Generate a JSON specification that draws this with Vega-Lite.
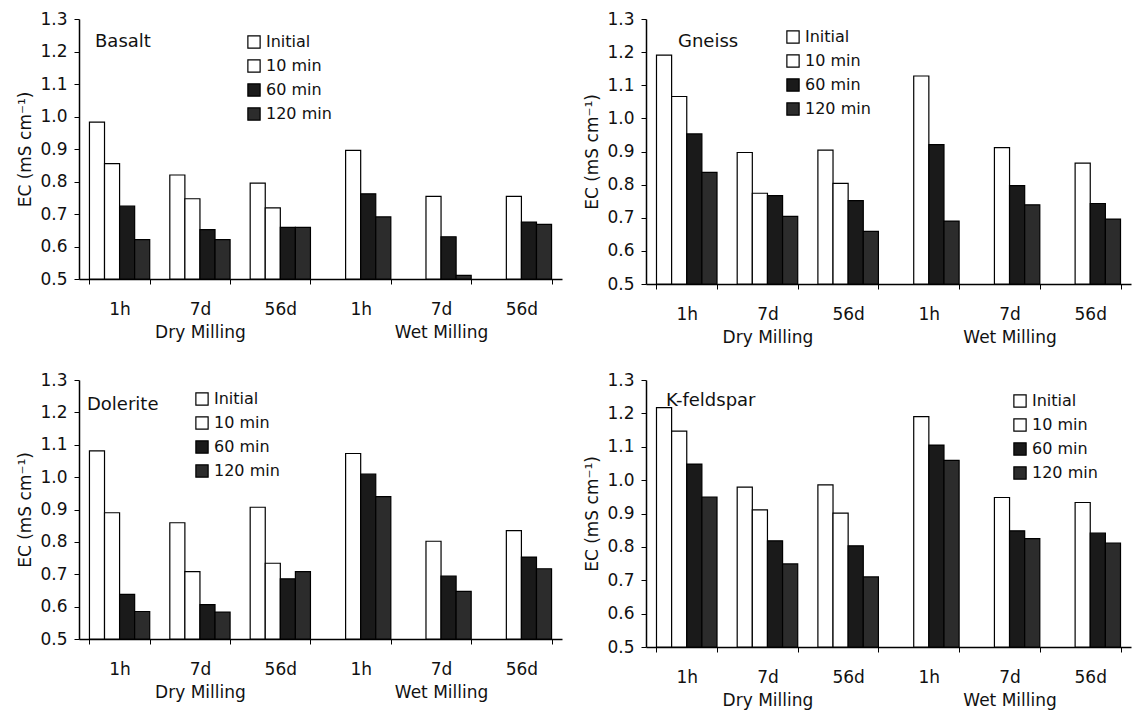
{
  "$schema": "https://vega.github.io/schema/vega-lite/v6.json",
  "padding": {"left": 16, "top": 10, "right": 2, "bottom": 5},
  "background": "#ffffff",
  "datasets": {
    "ec": [
      {"rock": "Basalt", "group": "Dry 1h", "time": "Initial", "ec": 0.983},
      {"rock": "Basalt", "group": "Dry 1h", "time": "10 min", "ec": 0.855},
      {"rock": "Basalt", "group": "Dry 1h", "time": "60 min", "ec": 0.724},
      {"rock": "Basalt", "group": "Dry 1h", "time": "120 min", "ec": 0.621},
      {"rock": "Basalt", "group": "Dry 7d", "time": "Initial", "ec": 0.820},
      {"rock": "Basalt", "group": "Dry 7d", "time": "10 min", "ec": 0.747},
      {"rock": "Basalt", "group": "Dry 7d", "time": "60 min", "ec": 0.652},
      {"rock": "Basalt", "group": "Dry 7d", "time": "120 min", "ec": 0.621},
      {"rock": "Basalt", "group": "Dry 56d", "time": "Initial", "ec": 0.795},
      {"rock": "Basalt", "group": "Dry 56d", "time": "10 min", "ec": 0.719},
      {"rock": "Basalt", "group": "Dry 56d", "time": "60 min", "ec": 0.659},
      {"rock": "Basalt", "group": "Dry 56d", "time": "120 min", "ec": 0.659},
      {"rock": "Basalt", "group": "Wet 1h", "time": "10 min", "ec": 0.896},
      {"rock": "Basalt", "group": "Wet 1h", "time": "60 min", "ec": 0.762},
      {"rock": "Basalt", "group": "Wet 1h", "time": "120 min", "ec": 0.691},
      {"rock": "Basalt", "group": "Wet 7d", "time": "10 min", "ec": 0.754},
      {"rock": "Basalt", "group": "Wet 7d", "time": "60 min", "ec": 0.630},
      {"rock": "Basalt", "group": "Wet 7d", "time": "120 min", "ec": 0.511},
      {"rock": "Basalt", "group": "Wet 56d", "time": "10 min", "ec": 0.754},
      {"rock": "Basalt", "group": "Wet 56d", "time": "60 min", "ec": 0.675},
      {"rock": "Basalt", "group": "Wet 56d", "time": "120 min", "ec": 0.668},

      {"rock": "Gneiss", "group": "Dry 1h", "time": "Initial", "ec": 1.191},
      {"rock": "Gneiss", "group": "Dry 1h", "time": "10 min", "ec": 1.066},
      {"rock": "Gneiss", "group": "Dry 1h", "time": "60 min", "ec": 0.953},
      {"rock": "Gneiss", "group": "Dry 1h", "time": "120 min", "ec": 0.837},
      {"rock": "Gneiss", "group": "Dry 7d", "time": "Initial", "ec": 0.897},
      {"rock": "Gneiss", "group": "Dry 7d", "time": "10 min", "ec": 0.774},
      {"rock": "Gneiss", "group": "Dry 7d", "time": "60 min", "ec": 0.767},
      {"rock": "Gneiss", "group": "Dry 7d", "time": "120 min", "ec": 0.704},
      {"rock": "Gneiss", "group": "Dry 56d", "time": "Initial", "ec": 0.904},
      {"rock": "Gneiss", "group": "Dry 56d", "time": "10 min", "ec": 0.804},
      {"rock": "Gneiss", "group": "Dry 56d", "time": "60 min", "ec": 0.752},
      {"rock": "Gneiss", "group": "Dry 56d", "time": "120 min", "ec": 0.659},
      {"rock": "Gneiss", "group": "Wet 1h", "time": "10 min", "ec": 1.128},
      {"rock": "Gneiss", "group": "Wet 1h", "time": "60 min", "ec": 0.921},
      {"rock": "Gneiss", "group": "Wet 1h", "time": "120 min", "ec": 0.690},
      {"rock": "Gneiss", "group": "Wet 7d", "time": "10 min", "ec": 0.912},
      {"rock": "Gneiss", "group": "Wet 7d", "time": "60 min", "ec": 0.797},
      {"rock": "Gneiss", "group": "Wet 7d", "time": "120 min", "ec": 0.739},
      {"rock": "Gneiss", "group": "Wet 56d", "time": "10 min", "ec": 0.865},
      {"rock": "Gneiss", "group": "Wet 56d", "time": "60 min", "ec": 0.743},
      {"rock": "Gneiss", "group": "Wet 56d", "time": "120 min", "ec": 0.696},

      {"rock": "Dolerite", "group": "Dry 1h", "time": "Initial", "ec": 1.081},
      {"rock": "Dolerite", "group": "Dry 1h", "time": "10 min", "ec": 0.890},
      {"rock": "Dolerite", "group": "Dry 1h", "time": "60 min", "ec": 0.638},
      {"rock": "Dolerite", "group": "Dry 1h", "time": "120 min", "ec": 0.585},
      {"rock": "Dolerite", "group": "Dry 7d", "time": "Initial", "ec": 0.859},
      {"rock": "Dolerite", "group": "Dry 7d", "time": "10 min", "ec": 0.708},
      {"rock": "Dolerite", "group": "Dry 7d", "time": "60 min", "ec": 0.606},
      {"rock": "Dolerite", "group": "Dry 7d", "time": "120 min", "ec": 0.583},
      {"rock": "Dolerite", "group": "Dry 56d", "time": "Initial", "ec": 0.907},
      {"rock": "Dolerite", "group": "Dry 56d", "time": "10 min", "ec": 0.734},
      {"rock": "Dolerite", "group": "Dry 56d", "time": "60 min", "ec": 0.686},
      {"rock": "Dolerite", "group": "Dry 56d", "time": "120 min", "ec": 0.708},
      {"rock": "Dolerite", "group": "Wet 1h", "time": "10 min", "ec": 1.073},
      {"rock": "Dolerite", "group": "Wet 1h", "time": "60 min", "ec": 1.009},
      {"rock": "Dolerite", "group": "Wet 1h", "time": "120 min", "ec": 0.940},
      {"rock": "Dolerite", "group": "Wet 7d", "time": "10 min", "ec": 0.802},
      {"rock": "Dolerite", "group": "Wet 7d", "time": "60 min", "ec": 0.694},
      {"rock": "Dolerite", "group": "Wet 7d", "time": "120 min", "ec": 0.647},
      {"rock": "Dolerite", "group": "Wet 56d", "time": "10 min", "ec": 0.835},
      {"rock": "Dolerite", "group": "Wet 56d", "time": "60 min", "ec": 0.753},
      {"rock": "Dolerite", "group": "Wet 56d", "time": "120 min", "ec": 0.717},

      {"rock": "K-feldspar", "group": "Dry 1h", "time": "Initial", "ec": 1.217},
      {"rock": "K-feldspar", "group": "Dry 1h", "time": "10 min", "ec": 1.147},
      {"rock": "K-feldspar", "group": "Dry 1h", "time": "60 min", "ec": 1.048},
      {"rock": "K-feldspar", "group": "Dry 1h", "time": "120 min", "ec": 0.949},
      {"rock": "K-feldspar", "group": "Dry 7d", "time": "Initial", "ec": 0.979},
      {"rock": "K-feldspar", "group": "Dry 7d", "time": "10 min", "ec": 0.911},
      {"rock": "K-feldspar", "group": "Dry 7d", "time": "60 min", "ec": 0.818},
      {"rock": "K-feldspar", "group": "Dry 7d", "time": "120 min", "ec": 0.749},
      {"rock": "K-feldspar", "group": "Dry 56d", "time": "Initial", "ec": 0.986},
      {"rock": "K-feldspar", "group": "Dry 56d", "time": "10 min", "ec": 0.901},
      {"rock": "K-feldspar", "group": "Dry 56d", "time": "60 min", "ec": 0.803},
      {"rock": "K-feldspar", "group": "Dry 56d", "time": "120 min", "ec": 0.710},
      {"rock": "K-feldspar", "group": "Wet 1h", "time": "10 min", "ec": 1.190},
      {"rock": "K-feldspar", "group": "Wet 1h", "time": "60 min", "ec": 1.105},
      {"rock": "K-feldspar", "group": "Wet 1h", "time": "120 min", "ec": 1.059},
      {"rock": "K-feldspar", "group": "Wet 7d", "time": "10 min", "ec": 0.948},
      {"rock": "K-feldspar", "group": "Wet 7d", "time": "60 min", "ec": 0.848},
      {"rock": "K-feldspar", "group": "Wet 7d", "time": "120 min", "ec": 0.825},
      {"rock": "K-feldspar", "group": "Wet 56d", "time": "10 min", "ec": 0.933},
      {"rock": "K-feldspar", "group": "Wet 56d", "time": "60 min", "ec": 0.841},
      {"rock": "K-feldspar", "group": "Wet 56d", "time": "120 min", "ec": 0.811}
    ]
  },
  "columns": 2,
  "spacing": {"row": 26, "column": 21},
  "resolve": {
    "scale": {"x": "independent", "y": "independent", "color": "independent", "xOffset": "independent"},
    "axis": {"x": "independent", "y": "independent"},
    "legend": {"color": "independent"}
  },
  "concat": [
    {
      "width": 483, "height": 260,
      "data": {"name": "ec"},
      "transform": [{"filter": "datum.rock == 'Basalt'"}],
      "title": {"text": "Basalt", "anchor": "start", "frame": "group", "offset": -41, "dx": 16},
      "mark": {"type": "bar", "stroke": "#000", "strokeWidth": 1.2},
      "encoding": {
        "x": {"field": "group", "type": "nominal", "sort": ["Dry 1h", "Dry 7d", "Dry 56d", "Wet 1h", "Wet 7d", "Wet 56d"], "scale": {"paddingInner": 0.25, "paddingOuter": 0.13}, "axis": {"title": null, "labelExpr": "datum.value == 'Dry 7d' ? ['7d', 'Dry Milling'] : datum.value == 'Wet 7d' ? ['7d', 'Wet Milling'] : split(datum.value, ' ')[1]"}},
        "xOffset": {"field": "time", "type": "nominal", "scale": {"domain": ["Initial", "10 min", "60 min", "120 min"]}},
        "y": {"field": "ec", "type": "quantitative", "scale": {"domain": [0.5, 1.3], "zero": false, "nice": false}, "axis": {"title": "EC (mS cm⁻¹)"}},
        "y2": {"datum": 0.5},
        "color": {"field": "time", "type": "nominal", "scale": {"domain": ["Initial", "10 min", "60 min", "120 min"], "range": ["#ffffff", "#ffffff", "#1a1a1a", "#2c2c2c"]}, "legend": {"orient": "none", "legendX": 167, "legendY": 15}}
      }
    },
    {
      "width": 485, "height": 265,
      "data": {"name": "ec"},
      "transform": [{"filter": "datum.rock == 'Gneiss'"}],
      "title": {"text": "Gneiss", "anchor": "start", "frame": "group", "offset": -41, "dx": 32},
      "mark": {"type": "bar", "stroke": "#000", "strokeWidth": 1.2},
      "encoding": {
        "x": {"field": "group", "type": "nominal", "sort": ["Dry 1h", "Dry 7d", "Dry 56d", "Wet 1h", "Wet 7d", "Wet 56d"], "scale": {"paddingInner": 0.25, "paddingOuter": 0.13}, "axis": {"title": null, "labelExpr": "datum.value == 'Dry 7d' ? ['7d', 'Dry Milling'] : datum.value == 'Wet 7d' ? ['7d', 'Wet Milling'] : split(datum.value, ' ')[1]"}},
        "xOffset": {"field": "time", "type": "nominal", "scale": {"domain": ["Initial", "10 min", "60 min", "120 min"]}},
        "y": {"field": "ec", "type": "quantitative", "scale": {"domain": [0.5, 1.3], "zero": false, "nice": false}, "axis": {"title": "EC (mS cm⁻¹)"}},
        "y2": {"datum": 0.5},
        "color": {"field": "time", "type": "nominal", "scale": {"domain": ["Initial", "10 min", "60 min", "120 min"], "range": ["#ffffff", "#ffffff", "#1a1a1a", "#2c2c2c"]}, "legend": {"orient": "none", "legendX": 139, "legendY": 10}}
      }
    },
    {
      "width": 483, "height": 259,
      "data": {"name": "ec"},
      "transform": [{"filter": "datum.rock == 'Dolerite'"}],
      "title": {"text": "Dolerite", "anchor": "start", "frame": "group", "offset": -43, "dx": 8},
      "mark": {"type": "bar", "stroke": "#000", "strokeWidth": 1.2},
      "encoding": {
        "x": {"field": "group", "type": "nominal", "sort": ["Dry 1h", "Dry 7d", "Dry 56d", "Wet 1h", "Wet 7d", "Wet 56d"], "scale": {"paddingInner": 0.25, "paddingOuter": 0.13}, "axis": {"title": null, "labelExpr": "datum.value == 'Dry 7d' ? ['7d', 'Dry Milling'] : datum.value == 'Wet 7d' ? ['7d', 'Wet Milling'] : split(datum.value, ' ')[1]"}},
        "xOffset": {"field": "time", "type": "nominal", "scale": {"domain": ["Initial", "10 min", "60 min", "120 min"]}},
        "y": {"field": "ec", "type": "quantitative", "scale": {"domain": [0.5, 1.3], "zero": false, "nice": false}, "axis": {"title": "EC (mS cm⁻¹)"}},
        "y2": {"datum": 0.5},
        "color": {"field": "time", "type": "nominal", "scale": {"domain": ["Initial", "10 min", "60 min", "120 min"], "range": ["#ffffff", "#ffffff", "#1a1a1a", "#2c2c2c"]}, "legend": {"orient": "none", "legendX": 115, "legendY": 11}}
      }
    },
    {
      "width": 485, "height": 267,
      "data": {"name": "ec"},
      "transform": [{"filter": "datum.rock == 'K-feldspar'"}],
      "title": {"text": "K-feldspar", "anchor": "start", "frame": "group", "offset": -39, "dx": 20},
      "mark": {"type": "bar", "stroke": "#000", "strokeWidth": 1.2},
      "encoding": {
        "x": {"field": "group", "type": "nominal", "sort": ["Dry 1h", "Dry 7d", "Dry 56d", "Wet 1h", "Wet 7d", "Wet 56d"], "scale": {"paddingInner": 0.25, "paddingOuter": 0.13}, "axis": {"title": null, "labelExpr": "datum.value == 'Dry 7d' ? ['7d', 'Dry Milling'] : datum.value == 'Wet 7d' ? ['7d', 'Wet Milling'] : split(datum.value, ' ')[1]"}},
        "xOffset": {"field": "time", "type": "nominal", "scale": {"domain": ["Initial", "10 min", "60 min", "120 min"]}},
        "y": {"field": "ec", "type": "quantitative", "scale": {"domain": [0.5, 1.3], "zero": false, "nice": false}, "axis": {"title": "EC (mS cm⁻¹)"}},
        "y2": {"datum": 0.5},
        "color": {"field": "time", "type": "nominal", "scale": {"domain": ["Initial", "10 min", "60 min", "120 min"], "range": ["#ffffff", "#ffffff", "#1a1a1a", "#2c2c2c"]}, "legend": {"orient": "none", "legendX": 366, "legendY": 13}}
      }
    }
  ],
  "config": {
    "font": "DejaVu Sans",
    "view": {"stroke": null},
    "title": {"fontSize": 18, "fontWeight": "normal", "color": "#111", "font": "DejaVu Sans", "baseline": "middle"},
    "axis": {"grid": false, "domain": true, "domainColor": "#000", "tickColor": "#000", "labelColor": "#111", "titleColor": "#111", "labelFont": "DejaVu Sans", "titleFont": "DejaVu Sans", "labelFontSize": 16, "titleFontSize": 17, "titleFontWeight": "normal", "tickSize": 5},
    "axisX": {"labelAngle": 0, "tickBand": "extent", "labelPadding": 17, "labelLineHeight": 23, "labelFontSize": 17, "domainWidth": 1.3},
    "axisY": {"values": [0.5, 0.6, 0.7, 0.8, 0.9, 1.0, 1.1, 1.2, 1.3], "format": ".1f", "titlePadding": 5, "labelPadding": 7, "labelFontSize": 17, "domainWidth": 1.5},
    "legend": {"title": null, "labelFont": "DejaVu Sans", "labelFontSize": 16, "labelColor": "#111", "symbolType": "square", "symbolSize": 150, "symbolStrokeColor": "#000", "symbolStrokeWidth": 1.2, "rowPadding": 6, "labelOffset": 4, "padding": 0}
  }
}
